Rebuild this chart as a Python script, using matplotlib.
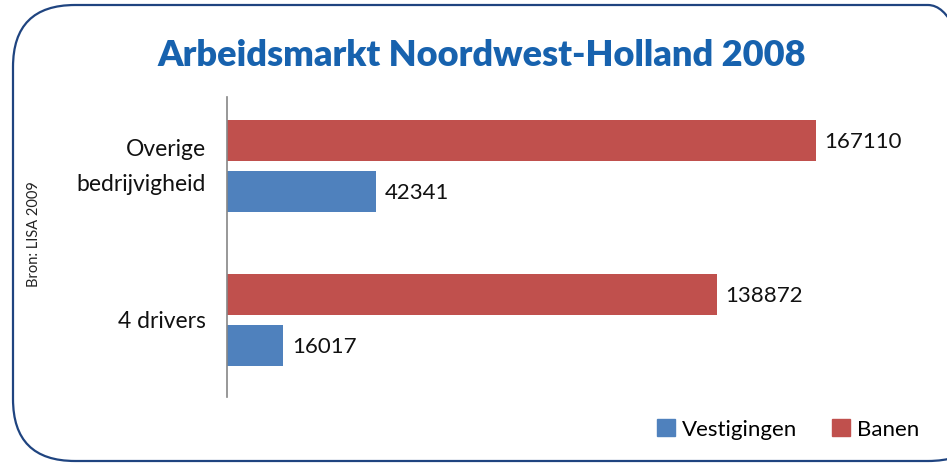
import matplotlib as mpl

mpl.use('agg')
import matplotlib.pyplot as plt
import numpy as np
from matplotlib.patches import FancyBboxPatch, Patch
from matplotlib.transforms import IdentityTransform

# data
categories = ['4 drivers', 'Overige\nbedrijvigheid']
vestigingen = [16017, 42341]
banen = [138872, 167110]
series_names = ['Vestigingen', 'Banen']

BLUE = '#4F81BD'
RED = '#C0504D'
TITLE_BLUE = '#1762AE'
FRAME = '#1F4480'

plt.rcParams['font.family'] = ['Lato', 'DejaVu Sans']

W, H = 947, 464
fig = plt.figure(figsize=(W / 100, H / 100), dpi=100)

# rounded frame, drawn in pixel coordinates
frame = FancyBboxPatch(
  (13, 2), 990 - 13, 456,
  boxstyle='round,pad=0,rounding_size=62',
  transform=IdentityTransform(), fill=False, edgecolor=FRAME, lw=1.6,
)
fig.patches.append(frame)

ax = fig.add_axes([227 / W, 1 - 398 / H, (897 - 227) / W, 300 / H])
y = np.arange(len(categories))
h = 0.266
off = 0.166
bars_b = ax.barh(y + off, banen, height=h, color=RED)
bars_v = ax.barh(y - off, vestigingen, height=h, color=BLUE)

for bars in (bars_b, bars_v):
  for rect in bars:
    w = rect.get_width()
    ax.annotate(str(int(w)), (w, rect.get_y() + rect.get_height() / 2),
                xytext=(6, 0), textcoords='offset points',
                va='center', ha='left', fontsize=16, color='#111111')

ax.set_xlim(0, 190000)
ax.set_ylim(-0.5, 1.45)
ax.set_yticks(y)
ax.set_yticklabels(categories, fontsize=16.5, color='#111111', linespacing=1.85)
for lbl in ax.get_yticklabels():
  lbl.set_va('center')
ax.tick_params(axis='y', length=0, pad=15)
ax.set_xticks([])
for s in ('top', 'right', 'bottom'):
  ax.spines[s].set_visible(False)
ax.spines['left'].set_color('#868686')
ax.spines['left'].set_linewidth(1.2)

fig.text(482 / W, 1 - 55 / H, 'Arbeidsmarkt Noordwest-Holland 2008',
         ha='center', va='center', fontsize=26, fontweight='heavy', color=TITLE_BLUE)
fig.text(34 / W, 1 - 234 / H, 'Bron: LISA 2009', rotation=90,
         ha='center', va='center', fontsize=10.5, color='#222222')

handles = [Patch(color=BLUE), Patch(color=RED)]
fig.legend(handles, series_names, loc='center', bbox_to_anchor=(788 / W, 1 - 430 / H),
           ncol=2, frameon=False, fontsize=16, handlelength=0.8, handleheight=0.8,
           handletextpad=0.3, columnspacing=1.6)

fig.savefig('out.png', dpi=100)
